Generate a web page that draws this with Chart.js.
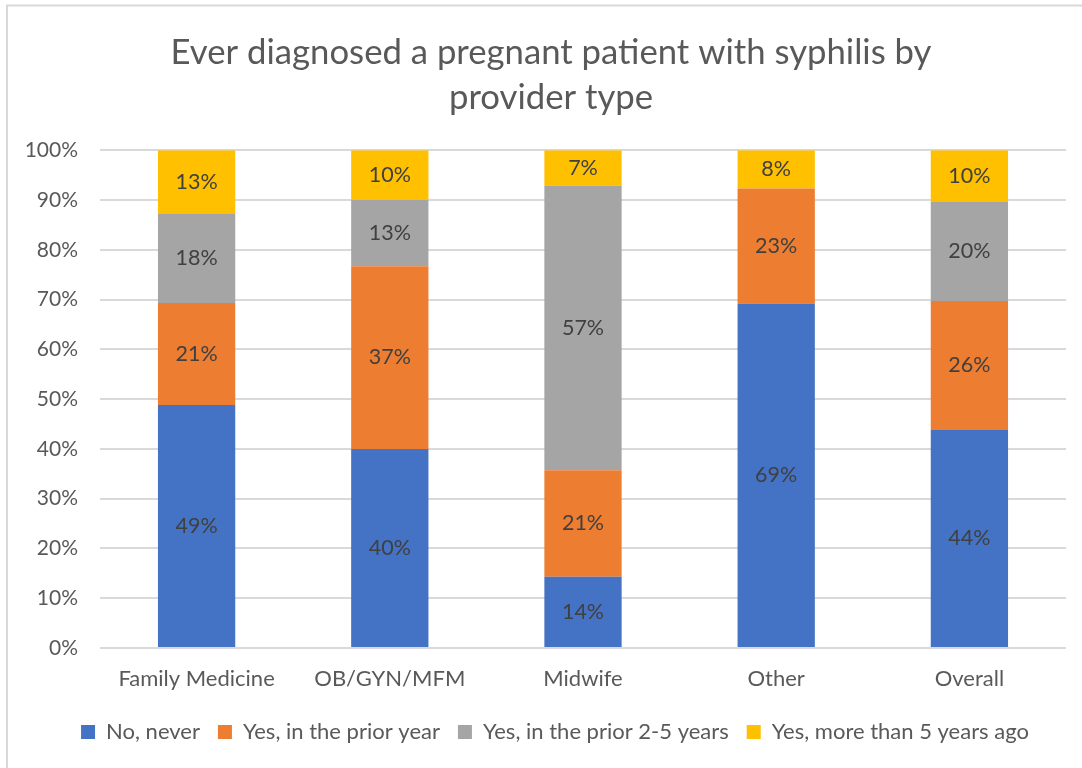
<!DOCTYPE html>
<html>
<head>
<meta charset="utf-8">
<script src="https://cdn.jsdelivr.net/npm/chart.js@4/dist/chart.umd.min.js"></script>
<style>
  html, body { margin: 0; padding: 0; background: #fff; }
  #wrap { width: 1082px; height: 768px; position: relative; }
</style>
</head>
<body>
<div id="wrap"><canvas id="c" width="1082" height="768"></canvas></div>
<script>
const categories = ["Family Medicine", "OB/GYN/MFM", "Midwife", "Other", "Overall"];
const seriesNames = ["No, never", "Yes, in the prior year", "Yes, in the prior 2-5 years", "Yes, more than 5 years ago"];
const noNever      = [48.8, 40.0, 14.3, 69.2, 43.8];
const priorYear    = [20.5, 36.7, 21.4, 23.1, 25.9];
const prior2to5    = [17.9, 13.3, 57.2, 0.0, 19.9];
const moreThan5    = [12.8, 10.0, 7.1, 7.7, 10.4];
const yTicks = [0, 10, 20, 30, 40, 50, 60, 70, 80, 90, 100];
const colors = ["#4472C4", "#ED7D31", "#A5A5A5", "#FFC000"];

const FONT = "Lato, 'Open Sans', 'Liberation Sans', sans-serif";
const TEXT = "#595959";

const borderPlugin = {
  id: 'frame',
  afterLayout(chart) {
    if (chart.titleBlock) { chart.titleBlock.left = 20; chart.titleBlock.right = 1082; }
    if (chart.legend) { chart.legend.left = 28; chart.legend.right = 1082; }
  },
  afterDraw(chart) {
    const ctx = chart.ctx;
    ctx.save();
    ctx.strokeStyle = '#d9d9d9';
    ctx.lineWidth = 2;
    ctx.beginPath();
    ctx.moveTo(7, 768);
    ctx.lineTo(7, 5.5);
    ctx.lineTo(1082, 5.5);
    ctx.stroke();
    ctx.restore();
  }
};

const labelPlugin = {
  id: 'segLabels',
  afterDatasetsDraw(chart) {
    const ctx = chart.ctx;
    ctx.save();
    ctx.font = "21.5px " + FONT;
    ctx.fillStyle = "#404040";
    ctx.textAlign = "center";
    ctx.textBaseline = "middle";
    chart.data.datasets.forEach((ds, di) => {
      const meta = chart.getDatasetMeta(di);
      meta.data.forEach((bar, i) => {
        const v = ds.data[i];
        if (!v) return;
        const p = bar.getProps(['x', 'y', 'base'], true);
        ctx.fillText(Math.round(v) + '%', p.x, (p.y + p.base) / 2);
      });
    });
    ctx.restore();
  }
};

const seriesData = [noNever, priorYear, prior2to5, moreThan5];

new Chart(document.getElementById('c'), {
  type: 'bar',
  data: {
    labels: categories,
    datasets: seriesNames.map((n, k) => ({
      label: n,
      data: seriesData[k],
      backgroundColor: colors[k],
      borderWidth: 0,
      barPercentage: 0.4,
      categoryPercentage: 1.0
    }))
  },
  options: {
    responsive: false,
    animation: false,
    layout: { padding: { top: 0, left: 0, right: 16, bottom: 15 } },
    plugins: {
      title: {
        display: true,
        text: ["Ever diagnosed a pregnant patient with syphilis by", "provider type"],
        color: TEXT,
        font: { family: FONT, size: 34.7, weight: 'normal', lineHeight: 1.3 },
        padding: { top: 30, bottom: 30 }
      },
      legend: {
        position: 'bottom',
        labels: {
          color: TEXT,
          font: { family: FONT, size: 22 },
          boxWidth: 14,
          boxHeight: 14,
          padding: 18
        }
      },
      tooltip: { enabled: false }
    },
    scales: {
      x: {
        stacked: true,
        grid: { display: false },
        border: { display: false },
        ticks: { color: TEXT, font: { family: FONT, size: 22 }, padding: 10 },
        afterFit(s) { s.height = 55; }
      },
      y: {
        stacked: true,
        min: 0,
        max: 100,
        afterBuildTicks(s) { s.ticks = yTicks.map(v => ({ value: v })); },
        grid: { color: '#d9d9d9', lineWidth: 2, drawTicks: false },
        border: { display: false },
        ticks: {
          color: TEXT,
          font: { family: FONT, size: 21 },
          padding: 22,
          callback: v => v + '%'
        },
        afterFit(s) { s.width = 100; }
      }
    }
  },
  plugins: [labelPlugin, borderPlugin]
});
</script>
</body>
</html>
